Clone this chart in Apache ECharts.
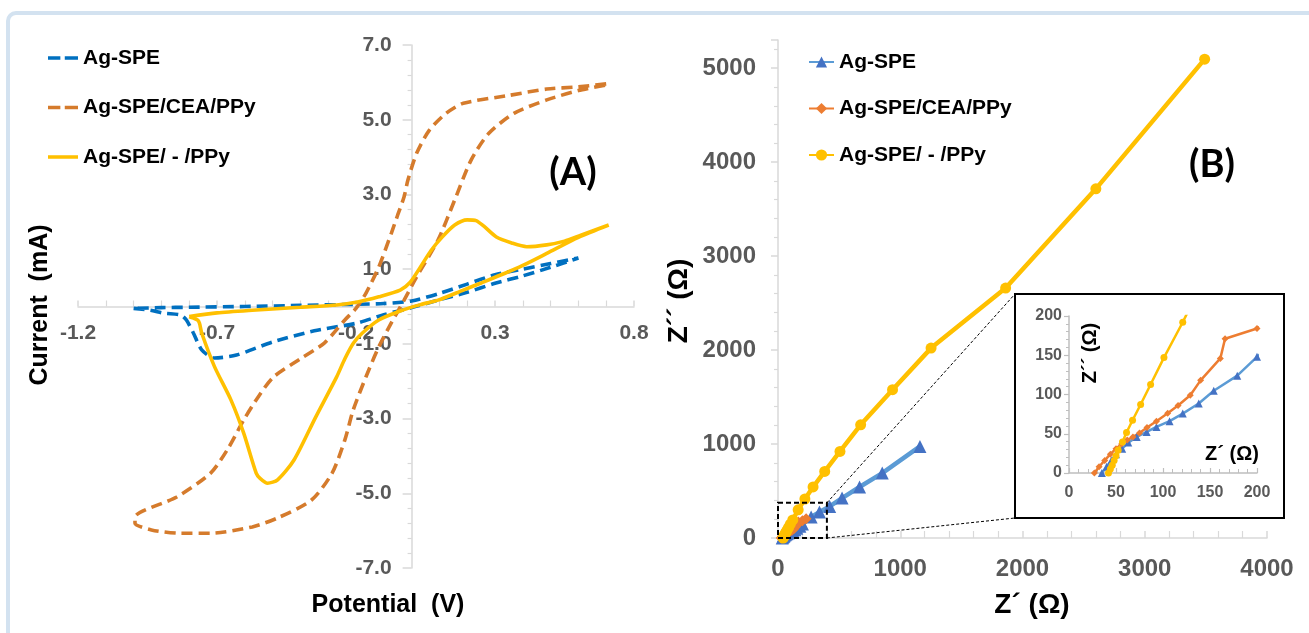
<!DOCTYPE html>
<html><head><meta charset="utf-8">
<script src="https://cdn.jsdelivr.net/npm/echarts@6/dist/echarts.min.js"></script>
<style>html,body{margin:0;padding:0;background:#fff}#c{width:1309px;height:633px}</style>
</head><body><div id="c"></div>
<script>
// ---------- names ----------
const seriesNames = ['Ag-SPE', 'Ag-SPE/CEA/PPy', 'Ag-SPE/ - /PPy'];

// ---------- (A) cyclic voltammetry: potential (V) / current (mA) ----------
const cvSpePotential = [-1.0, -0.94, -0.89, -0.83, -0.81, -0.785, -0.755, -0.71, -0.63, -0.5, -0.35, -0.2, -0.1, 0.0, 0.1, 0.2, 0.3, 0.4, 0.5, 0.6,
  0.5, 0.4, 0.3, 0.2, 0.1, 0.0, -0.1, -0.2, -0.4, -0.6, -0.8, -0.9, -1.0];
const cvSpeCurrent = [-0.05, -0.1, -0.18, -0.23, -0.36, -0.71, -1.16, -1.38, -1.3, -0.95, -0.65, -0.45, -0.22, -0.03, 0.18, 0.38, 0.62, 0.82, 1.05, 1.3,
  1.15, 1.0, 0.85, 0.6, 0.35, 0.15, 0.08, 0.06, 0.03, 0.0, -0.02, -0.03, -0.05];

const cvCeaPotential = [0.7, 0.6, 0.486, 0.35, 0.186, 0.124, 0.064, 0.018, -0.013, -0.027, -0.05, -0.073, -0.118, -0.164, -0.2, -0.24, -0.314, -0.4, -0.497, -0.55, -0.604, -0.66, -0.723, -0.845, -0.995,
  -0.995, -0.936, -0.83, -0.723, -0.573, -0.482, -0.36, -0.286, -0.24, -0.21, -0.164, -0.118, -0.073, -0.027, 0.018, 0.095, 0.155, 0.214, 0.277, 0.368, 0.486, 0.6, 0.7];
const cvCeaCurrent = [5.96, 5.88, 5.82, 5.65, 5.44, 5.17, 4.72, 4.1, 3.39, 2.94, 2.45, 1.96, 1.06, 0.36, -0.05, -0.36, -0.98, -1.4, -1.89, -2.4, -3.04, -3.8, -4.46, -5.1, -5.64,
  -5.8, -5.98, -6.07, -6.07, -5.9, -5.66, -5.18, -4.46, -3.57, -2.77, -1.88, -1.08, -0.44, 0.17, 0.79, 1.78, 2.85, 3.92, 4.63, 5.17, 5.53, 5.78, 5.93];

const cvPpyPotential = [-0.8, -0.7, -0.573, -0.4, -0.27, -0.195, -0.118, -0.041, -0.005, 0.032, 0.07, 0.109, 0.155, 0.2, 0.232, 0.26, 0.305, 0.36, 0.414, 0.486, 0.55, 0.609, 0.709,
  0.6, 0.486, 0.4, 0.336, 0.25, 0.186, 0.095, 0.032, -0.041, -0.118, -0.177, -0.209, -0.24, -0.27, -0.345, -0.423, -0.482, -0.518, -0.545, -0.559, -0.604, -0.65, -0.709, -0.755, -0.763, -0.77, -0.8];
const cvPpyCurrent = [-0.27, -0.17, -0.1, -0.02, 0.04, 0.12, 0.26, 0.44, 0.65, 1.06, 1.5, 1.85, 2.18, 2.32, 2.3, 2.15, 1.86, 1.7, 1.6, 1.65, 1.75, 1.91, 2.18,
  1.85, 1.42, 1.1, 0.89, 0.63, 0.44, 0.17, 0.05, -0.12, -0.36, -0.71, -0.98, -1.4, -1.89, -2.96, -4.11, -4.64, -4.73, -4.6, -4.46, -3.39, -2.5, -1.61, -0.71, -0.45, -0.36, -0.27];

// ---------- (B) Nyquist: Z' / Z'' (Ohm) ----------
const eisSpeReal = [35, 40, 45, 50, 56.6, 63, 72, 82.6, 93, 107, 121, 138, 154, 179, 200, 271, 339, 423, 524, 667, 853, 1161];
const eisSpeImag = [0, 8, 16, 24, 31, 38.7, 46, 52.3, 58.7, 66, 75.7, 88.5, 104.7, 124, 148, 223, 276, 336, 425, 543, 691, 975];
const eisCeaReal = [27, 32, 38, 44, 50, 56, 62, 68, 75, 83, 93, 105, 116, 129, 140, 161, 166, 200, 230];
const eisCeaImag = [0, 8, 16, 24, 31, 37, 42, 46, 51, 58, 66, 76, 86, 99, 118, 146, 171, 184, 205];
const eisPpyReal = [42, 44, 46, 48, 50, 52.3, 56.9, 61.2, 67.6, 76.2, 86.8, 101, 121, 165, 220, 287, 382, 507, 676, 937, 1252, 1862, 2600, 3490];
const eisPpyImag = [0, 5, 10, 16, 22, 28.9, 39.6, 51.5, 67.2, 87.2, 112.8, 147, 192, 300, 415, 543, 709, 921, 1205, 1578, 2021, 2660, 3716, 5096];

// zoom window shown in the inset (data units)
const zoomWindow = [400, 375];

// ---------- axis ticks ----------
const cvPotentialTicks = { min: -1.2, max: 0.8, interval: 0.5 };
const cvCurrentTicks = { min: -7, max: 7, interval: 2 };
const eisRealTicks = { min: 0, max: 4000, interval: 1000 };
const eisImagTicks = { min: 0, max: 5300, interval: 1000 };
const insetTicks = { min: 0, max: 200, interval: 50 };

const zip = (a, b) => a.map((v, i) => [v, b[i]]);
const FONT = "'Liberation Sans', Arial, sans-serif";
const GRAY = '#595959';
const AXIS = '#D9D9D9';

// grid A geometry, used to put the axes through the origin
const gridA = { left: 78, right: 675, top: 45, bottom: 65 };
const gridAW = 1309 - gridA.left - gridA.right;
const gridAH = 633 - gridA.top - gridA.bottom;
const yAxisAOffset = -(0 - cvPotentialTicks.min) / (cvPotentialTicks.max - cvPotentialTicks.min) * gridAW;
const xAxisAOffset = -(0 - cvCurrentTicks.min) / (cvCurrentTicks.max - cvCurrentTicks.min) * gridAH;

const chart = echarts.init(document.getElementById('c'), null, { renderer: 'canvas' });

function cvSeries(name, x, y, color, dashed) {
  return {
    type: 'line', name, xAxisIndex: 0, yAxisIndex: 0, data: zip(x, y),
    symbol: 'none', smooth: 0.25, color,
    lineStyle: { color, width: 3.6, type: dashed ? [11, 6] : 'solid' }
  };
}
function eisSeries(name, x, y, lineColor, markColor, symbol, size, idx, width) {
  return {
    type: 'line', name, xAxisIndex: idx, yAxisIndex: idx, data: zip(x, y),
    symbol, symbolSize: size, showSymbol: true, clip: true,
    z: idx === 2 ? 12 : 2,
    itemStyle: { color: markColor },
    lineStyle: { color: lineColor, width }
  };
}

const valueAxisBase = (t, extra) => Object.assign({
  type: 'value', min: t.min, max: t.max, interval: t.interval,
  splitLine: { show: false },
  axisLine: { show: true, onZero: false, lineStyle: { color: AXIS, width: 1.5 } },
  axisTick: { show: true, lineStyle: { color: AXIS, width: 1.5 } },
  minorTick: { show: true, splitNumber: 5, lineStyle: { color: AXIS, width: 1.2 } },
  axisLabel: { color: GRAY, fontFamily: FONT, fontWeight: 'bold', fontSize: 20 }
}, extra);

const dashIcon = 'path://M0,0h14v4h-14z M19,0h15v4h-15z';
const solidIcon = 'path://M0,0h34v4h-34z';

const option = {
  backgroundColor: '#fff',
  animation: false,
  grid: [
    gridA,
    { left: 778, right: 42, top: 40, bottom: 95 },
    { left: 1069, right: 52, top: 316, bottom: 160, z: 10 }
  ],
  xAxis: [
    valueAxisBase(cvPotentialTicks, {
      gridIndex: 0, position: 'bottom', offset: xAxisAOffset,
      axisTick: { show: true, inside: true, length: 6, lineStyle: { color: AXIS, width: 1.5 } },
      minorTick: { show: true, splitNumber: 5, length: 6, lineStyle: { color: AXIS, width: 1.2 } },
      axisLabel: { color: GRAY, fontFamily: FONT, fontWeight: 'bold', fontSize: 21, margin: 16, formatter: v => v.toFixed(1) }
    }),
    valueAxisBase(eisRealTicks, {
      gridIndex: 1,
      axisTick: { show: true, inside: true, length: 7, lineStyle: { color: AXIS, width: 1.5 } },
      minorTick: { show: true, splitNumber: 5, length: 7, lineStyle: { color: AXIS, width: 1.2 } },
      axisLabel: { color: GRAY, fontFamily: FONT, fontWeight: 'bold', fontSize: 24, margin: 19, formatter: v => String(v) }
    }),
    valueAxisBase(insetTicks, {
      gridIndex: 2, z: 12,
      axisLine: { show: true, onZero: false, lineStyle: { color: '#BFBFBF', width: 1.5 } },
      axisTick: { show: true, inside: true, length: 5, lineStyle: { color: '#BFBFBF', width: 1.2 } },
      minorTick: { show: true, splitNumber: 5, length: 4, lineStyle: { color: '#BFBFBF', width: 1 } },
      axisLabel: { color: GRAY, fontFamily: FONT, fontWeight: 'bold', fontSize: 16, margin: 12 }
    })
  ],
  yAxis: [
    valueAxisBase(cvCurrentTicks, {
      gridIndex: 0, position: 'left', offset: yAxisAOffset,
      axisTick: { show: true, length: 9, lineStyle: { color: AXIS, width: 1.5 } },
      minorTick: { show: true, splitNumber: 5, length: 4, lineStyle: { color: AXIS, width: 1.2 } },
      axisLabel: { color: GRAY, fontFamily: FONT, fontWeight: 'bold', fontSize: 21, margin: 20, formatter: v => v.toFixed(1) }
    }),
    valueAxisBase(eisImagTicks, {
      gridIndex: 1,
      axisTick: { show: true, length: 7, lineStyle: { color: AXIS, width: 1.5 } },
      minorTick: { show: true, splitNumber: 5, length: 4, lineStyle: { color: AXIS, width: 1.2 } },
      axisLabel: { color: GRAY, fontFamily: FONT, fontWeight: 'bold', fontSize: 24, margin: 22, showMaxLabel: false, formatter: v => String(v) }
    }),
    valueAxisBase(insetTicks, {
      gridIndex: 2, z: 12,
      axisLine: { show: true, onZero: false, lineStyle: { color: '#BFBFBF', width: 1.5 } },
      axisTick: { show: true, length: 5, lineStyle: { color: '#BFBFBF', width: 1.2 } },
      minorTick: { show: true, splitNumber: 5, length: 3, lineStyle: { color: '#BFBFBF', width: 1 } },
      axisLabel: { color: GRAY, fontFamily: FONT, fontWeight: 'bold', fontSize: 16, margin: 7 }
    })
  ],
  legend: [
    {
      orient: 'vertical', left: 43, top: 41, itemWidth: 30, itemHeight: 4, itemGap: 25.5,
      data: [
        { name: seriesNames[0], icon: dashIcon },
        { name: seriesNames[1], icon: dashIcon },
        { name: seriesNames[2], icon: solidIcon }
      ],
      textStyle: { color: '#000', fontFamily: FONT, fontWeight: 'bold', fontSize: 21, lineHeight: 24 },
      selectedMode: false
    },
    {
      orient: 'vertical', left: 803, top: 45, itemWidth: 25, itemHeight: 14, itemGap: 22.5,
      data: seriesNames.map(n => n + ' '),
      formatter: n => n.trim(),
      textStyle: { color: '#000', fontFamily: FONT, fontWeight: 'bold', fontSize: 21, lineHeight: 24 },
      selectedMode: false
    }
  ],
  series: [
    cvSeries(seriesNames[0], cvSpePotential, cvSpeCurrent, '#0070C0', true),
    cvSeries(seriesNames[1], cvCeaPotential, cvCeaCurrent, '#D57B2C', true),
    cvSeries(seriesNames[2], cvPpyPotential, cvPpyCurrent, '#FFC000', false),
    eisSeries(seriesNames[0] + ' ', eisSpeReal, eisSpeImag, '#5B9BD5', '#4472C4', 'triangle', 13, 1, 4.5),
    eisSeries(seriesNames[1] + ' ', eisCeaReal, eisCeaImag, '#ED7D31', '#ED7D31', 'diamond', 11, 1, 4.5),
    eisSeries(seriesNames[2] + ' ', eisPpyReal, eisPpyImag, '#FFC000', '#FFC000', 'circle', 11, 1, 4.5),
    eisSeries('inset-1', eisSpeReal, eisSpeImag, '#5B9BD5', '#4472C4', 'triangle', 8, 2, 2.5),
    eisSeries('inset-2', eisCeaReal, eisCeaImag, '#ED7D31', '#ED7D31', 'diamond', 7, 2, 2.5),
    eisSeries('inset-3', eisPpyReal, eisPpyImag, '#FFC000', '#FFC000', 'circle', 7, 2, 2.5)
  ]
};
chart.setOption(option);

// ---------- annotations ----------
const p0 = chart.convertToPixel({ gridIndex: 1 }, [0, 0]);
const p1 = chart.convertToPixel({ gridIndex: 1 }, zoomWindow);
const insetBox = { x: 1015, y: 294, w: 269, h: 224 };
const txt = (text, x, y, size, rot, family) => ({
  type: 'text', x, y, rotation: rot || 0, z: 20,
  style: { text, fill: '#000', font: 'bold ' + size + 'px ' + (family || FONT), textAlign: 'center', textVerticalAlign: 'middle' }
});
chart.setOption({
  graphic: [
    { type: 'rect', shape: { x: 8, y: 13, width: 1400, height: 700, r: 8 }, style: { fill: 'none', stroke: '#D3E2F0', lineWidth: 4 }, z: 0 },
    { type: 'rect', shape: { x: insetBox.x, y: insetBox.y, width: insetBox.w, height: insetBox.h }, style: { fill: '#fff', stroke: '#000', lineWidth: 2 }, z: 1 },
    { type: 'rect', shape: { x: p0[0], y: p1[1], width: p1[0] - p0[0], height: p0[1] - p1[1] }, style: { fill: 'none', stroke: '#000', lineWidth: 2, lineDash: [5, 3] }, z: 15 },
    { type: 'line', shape: { x1: p1[0], y1: p1[1], x2: insetBox.x, y2: insetBox.y }, style: { stroke: '#000', lineWidth: 1, lineDash: [3, 2] }, z: 15 },
    { type: 'line', shape: { x1: p1[0], y1: p0[1], x2: insetBox.x, y2: insetBox.y + insetBox.h }, style: { stroke: '#000', lineWidth: 1, lineDash: [3, 2] }, z: 15 },
    txt('Current  (mA)', 40, 305, 25, Math.PI / 2),
    txt('Potential  (V)', 388, 605, 25),
    txt('Z\u00B4\u00B4 (\u03A9)', 679, 301, 28, Math.PI / 2),
    txt('Z\u00B4 (\u03A9)', 1032, 605, 28),
    txt('Z\u00B4\u00B4 (\u03A9)', 1090, 353, 20, Math.PI / 2),
    txt('Z\u00B4 (\u03A9)', 1232, 454, 20),
    txt('(A)', 573, 173, 38, 0, "Lato, 'Liberation Sans', sans-serif"),
    txt('(B)', 1212, 165, 38, 0, "Lato, 'Liberation Sans', sans-serif")
  ]
});
</script>
</body></html>
